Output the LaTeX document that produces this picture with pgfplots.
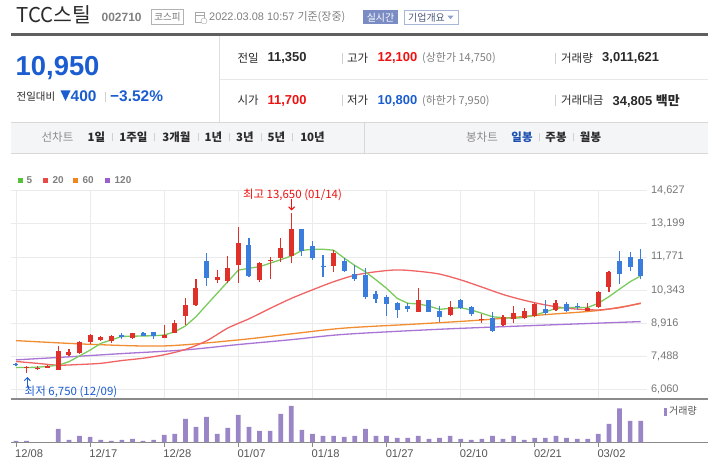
\documentclass[border=0pt]{standalone}
\usepackage{pgfplots}
\pgfplotsset{compat=1.18}
\usepackage{fontspec}
\setmainfont{Liberation Sans}
\newfontfamily\kr{Noto Sans CJK KR}
\usetikzlibrary{arrows.meta}

\definecolor{upc}{HTML}{E0302A}
\definecolor{dnc}{HTML}{3A7DDD}
\definecolor{ma5}{HTML}{7CCB5E}
\definecolor{ma20}{HTML}{F06464}
\definecolor{ma60}{HTML}{F28C30}
\definecolor{ma120}{HTML}{A874D6}
\definecolor{lg5}{HTML}{55C23A}
\definecolor{lg20}{HTML}{E84A45}
\definecolor{lg60}{HTML}{F0861E}
\definecolor{lg120}{HTML}{9B5FCC}
\definecolor{volc}{HTML}{9A86C6}
\definecolor{gridc}{HTML}{EBEBEB}
\definecolor{axc}{HTML}{8A8A8A}
\definecolor{tick}{HTML}{777777}
\definecolor{bluetxt}{HTML}{1B5DD0}
\definecolor{redtxt}{HTML}{EE1111}
\definecolor{dark}{HTML}{2A2A2A}
\definecolor{slate}{HTML}{7A8CC3}
\definecolor{boxbd}{HTML}{A8B6D8}
\definecolor{boxtxt}{HTML}{4A5A7A}
\definecolor{tri}{HTML}{8DA0CC}
\definecolor{hdline}{HTML}{5F5F5F}
\definecolor{divc}{HTML}{DEDEDE}
\definecolor{rowsep}{HTML}{E8E8E8}
\definecolor{sepbar}{HTML}{D0D0D0}
\definecolor{tbfill}{HTML}{F4F5F7}
\definecolor{tbline}{HTML}{D8D8D8}
\definecolor{navy}{HTML}{1B4FB0}
\definecolor{lab}{HTML}{555555}

\newcommand\fs[1]{\fontsize{#1}{#1}\selectfont}

\begin{document}
\begin{tikzpicture}[x=1bp,y=1bp]
\useasboundingbox (0,0) rectangle (708,466);
\fill[white] (0,0) rectangle (708,466);

% ---- header ----
\node[anchor=west,inner sep=0,text=dark] at (16.5,451.5) {\kr\fs{20.5}TCC스틸};
\node[anchor=west,inner sep=0,text=gray] at (101.5,448.7) {\fs{12}\bfseries 002710};
\draw[gray!60,fill=white] (151.5,442) rectangle (183.5,456.5);
\node[text=gray!90!black,inner sep=0] at (167.5,449.3) {\kr\fs{9.5}코스피};
\draw[gray!70] (195.5,443.5) rectangle (204,453.5);
\draw[gray!70] (195.5,450.5) -- (204,450.5);
\draw[gray!70,fill=white] (204,445) circle (3);
\node[anchor=west,inner sep=0,text=gray] at (209,449.3) {\fs{11}2022.03.08 10:57 {\kr 기준(장중)}};
\fill[slate] (363.3,442) rectangle (397.7,455.5);
\node[text=white,inner sep=0] at (380.5,448.7) {\kr\fs{10}실시간};
\draw[boxbd,fill=white] (404,442) rectangle (458,455.5);
\node[anchor=west,inner sep=0,text=boxtxt] at (408,448.7) {\kr\fs{10}기업개요};
\fill[tri] (447.5,450.3) -- (453.5,450.3) -- (450.5,446.8) -- cycle;

\fill[hdline] (11,430) rectangle (708,432.5);
\draw[divc] (219.5,430) -- (219.5,344);
\draw[rowsep] (219.5,386.7) -- (708,386.7);

\node[anchor=west,inner sep=0,text=bluetxt] at (15.5,398) {\fs{27.5}\bfseries 10,950};
\node[anchor=west,inner sep=0,text=dark] at (16.5,369.5) {\kr\fs{10.5}전일대비};
\fill[bluetxt] (60.5,375.5) -- (70.5,375.5) -- (65.5,365) -- cycle;
\node[anchor=west,inner sep=0,text=bluetxt] at (70.5,369.5) {\fs{15.5}\bfseries 400};
\draw[sepbar] (105.5,374) -- (105.5,364);
\node[anchor=west,inner sep=0,text=bluetxt] at (110,369.5) {\fs{15.5}\bfseries −3.52\%};

\foreach \yy in {407.7,365.3}{
  \draw[sepbar] (342.5,\yy-5.5) -- (342.5,\yy+5.5);
  \draw[sepbar] (555.5,\yy-5.5) -- (555.5,\yy+5.5);
}
\node[anchor=west,inner sep=0,text=dark] at (237.5,407.7) {\kr\fs{11.5}전일};
\node[anchor=west,inner sep=0,text=dark] at (267.5,407.7) {\fs{13}\bfseries 11,350};
\node[anchor=west,inner sep=0,text=dark] at (347,407.7) {\kr\fs{11.5}고가};
\node[anchor=west,inner sep=0,text=redtxt] at (377.5,407.7) {\fs{13}\bfseries 12,100};
\node[anchor=west,inner sep=0,text=gray] at (422,407.7) {\kr\fs{11}(상한가 14,750)};
\node[anchor=west,inner sep=0,text=dark] at (561,407.7) {\kr\fs{11.5}거래량};
\node[anchor=west,inner sep=0,text=dark] at (602,407.7) {\fs{13}\bfseries 3,011,621};

\node[anchor=west,inner sep=0,text=dark] at (237.5,365.3) {\kr\fs{11.5}시가};
\node[anchor=west,inner sep=0,text=redtxt] at (267.5,365.3) {\fs{13}\bfseries 11,700};
\node[anchor=west,inner sep=0,text=dark] at (347,365.3) {\kr\fs{11.5}저가};
\node[anchor=west,inner sep=0,text=bluetxt] at (377.5,365.3) {\fs{13}\bfseries 10,800};
\node[anchor=west,inner sep=0,text=gray] at (422,365.3) {\kr\fs{11}(하한가 7,950)};
\node[anchor=west,inner sep=0,text=dark] at (561,365.3) {\kr\fs{11.5}거래대금};
\node[anchor=west,inner sep=0,text=dark] at (612.5,365.3) {\fs{13}\bfseries 34,805 {\kr 백만}};

% ---- toolbar ----
\fill[tbfill] (11,313) rectangle (708,344);
\draw[tbline] (11,344) -- (708,344);
\draw[tbline] (11,313) -- (708,313);
\draw[tbline] (364.5,313) -- (364.5,344);
\node[text=gray!90,inner sep=0] at (57.5,328.5) {\kr\fs{11.5}선차트};
\foreach \xx/\tt in {96.5/1일,133.5/1주일,176.5/3개월,213.5/1년,245/3년,276.5/5년,312.5/10년}
  \node[text=dark,inner sep=0] at (\xx,328.5) {\kr\fs{11.5}\bfseries \tt};
\foreach \xx in {112,154.5,198.5,229,261,292.5,539,573}
  \draw[sepbar] (\xx,324.5) -- (\xx,332.5);
\node[text=gray!90,inner sep=0] at (482,328.5) {\kr\fs{11.5}봉차트};
\node[text=navy,inner sep=0] at (522,328.5) {\kr\fs{11.5}\bfseries 일봉};
\node[text=dark,inner sep=0] at (556,328.5) {\kr\fs{11.5}\bfseries 주봉};
\node[text=dark,inner sep=0] at (590.5,328.5) {\kr\fs{11.5}\bfseries 월봉};

% ---- MA legend ----
\fill[lg5] (18.3,282.5) rectangle (23.3,288.3);
\node[anchor=west,inner sep=0,text=gray] at (26.5,285.5) {\fs{10}\bfseries 5};
\fill[lg20] (43.3,282.5) rectangle (48.3,288.3);
\node[anchor=west,inner sep=0,text=gray] at (52.5,285.5) {\fs{10}\bfseries 20};
\fill[lg60] (73.3,282.5) rectangle (78.3,288.3);
\node[anchor=west,inner sep=0,text=gray] at (82.5,285.5) {\fs{10}\bfseries 60};
\fill[lg120] (105,282.5) rectangle (110,288.3);
\node[anchor=west,inner sep=0,text=gray] at (114.5,285.5) {\fs{10}\bfseries 120};

% ---- price panel ----
\begin{axis}[
  at={(11bp,67bp)}, anchor=south west,
  width=635.6bp, height=208.3bp, scale only axis,
  xmin=-0.472, xmax=59.56, ymin=5641.5, ymax=14627,
  axis line style={draw=none},
  xtick={0,7,14,21,28,35,42,49,55}, xticklabels={},
  ytick={6060,7488,8916,10343,11771,13199,14627},
  yticklabels={{6,060},{7,488},{8,916},{10,343},{11,771},{13,199},{14,627}},
  scaled y ticks=false,
  yticklabel pos=right,
  yticklabel style={anchor=west, inner sep=0pt, xshift=4.3bp, font=\fs{11}, text=tick},
  major tick length=0pt,
  grid=major, grid style={gridc, line width=0.8bp},
  clip=false,
]
\addplot[ma120, line width=1.3bp, smooth] coordinates {
(0,7330)(5,7460)(10,7600)(16,7760)(21,7990)(26,8200)(31,8430)(40,8650)(50,8830)(59,8980)};
\addplot[ma60, line width=1.3bp, smooth] coordinates {
(0,8160)(7,8000)(14,7930)(21,8190)(26,8450)(31,8700)(38,8880)(44,9050)(50,9280)(55,9460)(59,9760)};
\addplot[ma20, line width=1.3bp, smooth] coordinates {
(0,7260)(2,7180)(4,7100)(6,7130)(8,7180)(10,7300)(12,7400)(14,7550)(16,7780)(18,8150)
(20,8700)(22,9100)(24,9550)(26,9980)(28,10350)(30,10700)(32,10980)(34,11130)(36,11210)
(38,11150)(40,11030)(42,10780)(44,10470)(46,10150)(48,9900)(50,9700)(52,9560)(54,9490)
(55,9480)(57,9580)(59,9780)};
\addplot[ma5, line width=1.3bp] coordinates {
(0,7000)(1,7000)(2,7010)(3,7050)(4,7100)(5,7250)(6,7500)(7,7750)(8,8040)(9,8190)
(10,8340)(11,8350)(12,8360)(13,8370)(14,8400)(15,8545)(16,8790)(17,9190)(18,9700)(19,10200)
(20,10700)(21,11200)(22,11280)(23,11350)(24,11500)(25,11650)(26,11810)(27,12050)(28,12100)(29,12100)
(30,12060)(31,11720)(32,11400)(33,11130)(34,10780)(35,10415)(36,9984)(37,9770)(38,9740)(39,9650)
(40,9510)(41,9550)(42,9580)(43,9480)(44,9340)(45,9190)(46,9150)(47,9120)(48,9160)(49,9260)
(50,9400)(51,9550)(52,9590)(53,9590)(54,9590)(55,9770)(56,10055)(57,10380)(58,10700)(59,10950)};
% up candles: wicks low-high, bodies open-close
\addplot[upc, line width=1.2bp, unbounded coords=jump] coordinates {
(1,6750)(1,7050)(1,nan) (2,6900)(2,7050)(2,nan) (3,6980)(3,7100)(3,nan) (4,6880)(4,7930)(4,nan)
(5,7480)(5,7800)(5,nan) (6,7600)(6,8150)(6,nan) (7,8020)(7,8430)(7,nan) (8,8150)(8,8350)(8,nan)
(9,8050)(9,8400)(9,nan) (11,8240)(11,8500)(11,nan) (14,8260)(14,8830)(14,nan) (15,8480)(15,9050)(15,nan)
(16,8850)(16,10000)(16,nan) (17,9660)(17,10820)(17,nan) (19,10660)(19,11200)(19,nan) (20,10630)(20,11800)(20,nan)
(21,10660)(21,13070)(21,nan) (23,10700)(23,11540)(23,nan) (24,10820)(24,11750)(24,nan) (25,11540)(25,12580)(25,nan)
(26,11500)(26,13650)(26,nan) (30,11110)(30,12070)(30,nan) (38,9380)(38,10440)(38,nan) (41,9220)(41,9850)(41,nan)
(44,8910)(44,9290)(44,nan) (46,8790)(46,9260)(46,nan) (47,8910)(47,9670)(47,nan) (48,9080)(48,9550)(48,nan)
(49,9190)(49,9800)(49,nan) (51,9440)(51,9910)(51,nan) (54,9420)(54,9770)(54,nan) (55,9570)(55,10300)(55,nan)
(56,10270)(56,11150)};
\addplot[upc, line width=5bp, unbounded coords=jump] coordinates {
(1,6980)(1,7030)(1,nan) (2,6940)(2,6990)(2,nan) (3,7000)(3,7080)(3,nan) (4,6900)(4,7720)(4,nan)
(5,7550)(5,7650)(5,nan) (6,7620)(6,8090)(6,nan) (7,8080)(7,8400)(7,nan) (8,8200)(8,8300)(8,nan)
(9,8150)(9,8350)(9,nan) (11,8260)(11,8470)(11,nan) (14,8280)(14,8400)(14,nan) (15,8500)(15,8920)(15,nan)
(16,9220)(16,9700)(16,nan) (17,9680)(17,10430)(17,nan) (19,10790)(19,10890)(19,nan) (20,10750)(20,11280)(20,nan)
(21,11420)(21,12380)(21,nan) (23,10780)(23,11500)(23,nan) (24,11600)(24,11650)(24,nan) (25,11720)(25,12150)(25,nan)
(26,11820)(26,12980)(26,nan) (30,11380)(30,11940)(30,nan) (38,9410)(38,9910)(38,nan) (41,9270)(41,9600)(41,nan)
(44,9070)(44,9110)(44,nan) (46,8830)(46,9190)(46,nan) (47,9100)(47,9360)(47,nan) (48,9150)(48,9440)(48,nan)
(49,9240)(49,9730)(49,nan) (51,9480)(51,9770)(51,nan) (54,9450)(54,9550)(54,nan) (55,9600)(55,10240)(55,nan)
(56,10490)(56,11130)};
% down candles
\addplot[dnc, line width=1.2bp, unbounded coords=jump] coordinates {
(0,7050)(0,7200)(0,nan) (10,8250)(10,8500)(10,nan) (12,8350)(12,8520)(12,nan) (13,8230)(13,8550)(13,nan)
(18,10530)(18,11950)(18,nan) (22,10920)(22,12570)(22,nan) (27,11820)(27,12980)(27,nan) (28,11640)(28,12450)(28,nan)
(29,10920)(29,11850)(29,nan) (31,11130)(31,11710)(31,nan) (32,10730)(32,11420)(32,nan) (33,9940)(33,11280)(33,nan)
(34,9800)(34,10300)(34,nan) (35,9240)(35,10130)(35,nan) (36,9150)(36,9840)(36,nan) (37,9410)(37,9800)(37,nan)
(39,9380)(39,9930)(39,nan) (40,8950)(40,9650)(40,nan) (42,9540)(42,9960)(42,nan) (43,9220)(43,9650)(43,nan)
(45,8550)(45,9400)(45,nan) (50,9260)(50,9910)(50,nan) (52,9410)(52,9840)(52,nan) (53,9500)(53,9780)(53,nan)
(57,10590)(57,12030)(57,nan) (58,11180)(58,12000)(58,nan) (59,10800)(59,12100)};
\addplot[dnc, line width=5bp, unbounded coords=jump] coordinates {
(0,7150)(0,7100)(0,nan) (10,8420)(10,8320)(10,nan) (12,8480)(12,8380)(12,nan) (13,8530)(13,8370)(13,nan)
(18,11590)(18,10880)(18,nan) (22,12280)(22,10960)(22,nan) (27,12980)(27,12030)(27,nan) (28,12230)(28,11740)(28,nan)
(29,11400)(29,11330)(29,nan) (31,11590)(31,11180)(31,nan) (32,11020)(32,10820)(32,nan) (33,10980)(33,10030)(33,nan)
(34,10170)(34,9960)(34,nan) (35,10060)(35,9740)(35,nan) (36,9800)(36,9480)(36,nan) (37,9650)(37,9540)(37,nan)
(39,9910)(39,9410)(39,nan) (40,9440)(40,9190)(40,nan) (42,9910)(42,9580)(42,nan) (43,9600)(43,9300)(43,nan)
(45,9120)(45,8590)(45,nan) (50,9520)(50,9360)(50,nan) (52,9730)(52,9440)(52,nan) (53,9650)(53,9600)(53,nan)
(57,11610)(57,11030)(57,nan) (58,11750)(58,11350)(58,nan) (59,11700)(59,10950)};
\end{axis}

% high / low markers
\node[text=redtxt,inner sep=0] at (292.5,271) {\kr\fs{11.5}최고 13,650 (01/14)};
\draw[redtxt,line width=1bp,-{Straight Barb[length=3bp,width=6bp]}] (291.6,267) -- (291.6,255.5);
\node[text=bluetxt,inner sep=0] at (71,74.3) {\kr\fs{11.5}최저 6,750 (12/09)};
\draw[bluetxt,line width=1bp,-{Straight Barb[length=3bp,width=6bp]}] (27.3,78.5) -- (27.3,89);

% ---- volume panel ----
\begin{axis}[
  at={(11bp,23.7bp)}, anchor=south west,
  width=635.6bp, height=43.3bp, scale only axis,
  xmin=-0.472, xmax=59.56, ymin=0, ymax=6105,
  axis line style={draw=none},
  ytick=\empty,
  xtick={0,7,14,21,28,35,42,49,55},
  xticklabels={12/08,12/17,12/28,01/07,01/18,01/27,02/10,02/21,03/02},
  xtick pos=bottom, tick align=outside, major tick length=4.7bp,
  xtick style={axc, line width=0.9bp},
  xticklabel style={anchor=west, inner sep=0pt, xshift=-1bp, yshift=-7bp, font=\fs{11.2}, text=lab},
]
\addplot[ybar, bar width=4.7bp, fill=volc, draw=none] coordinates {
(0,188)(1,188)(2,40)(3,40)(4,1875)(5,329)(6,893)(7,752)(8,329)(9,188)
(10,329)(11,470)(12,188)(13,329)(14,1034)(15,1175)(16,3290)(17,2160)(18,3570)(19,1175)
(20,2020)(21,3850)(22,2160)(23,1595)(24,1595)(25,3990)(26,5120)(27,1735)(28,1175)(29,893)
(30,893)(31,752)(32,893)(33,1875)(34,893)(35,893)(36,611)(37,611)(38,893)(39,470)
(40,611)(41,893)(42,470)(43,329)(44,470)(45,893)(46,470)(47,893)(48,329)(49,611)
(50,611)(51,893)(52,611)(53,470)(54,470)(55,1175)(56,2580)(57,4795)(58,3005)(59,3012)};
\end{axis}

\draw[axc,line width=1.2bp] (11,67) -- (708,67);
\draw[axc,line width=1.2bp] (11,23.7) -- (708,23.7);
\fill[volc] (664,50.3) rectangle (667.3,58);
\node[anchor=west,inner sep=0,text=lab] at (669,55) {\kr\fs{10}거래량};
\end{tikzpicture}
\end{document}
